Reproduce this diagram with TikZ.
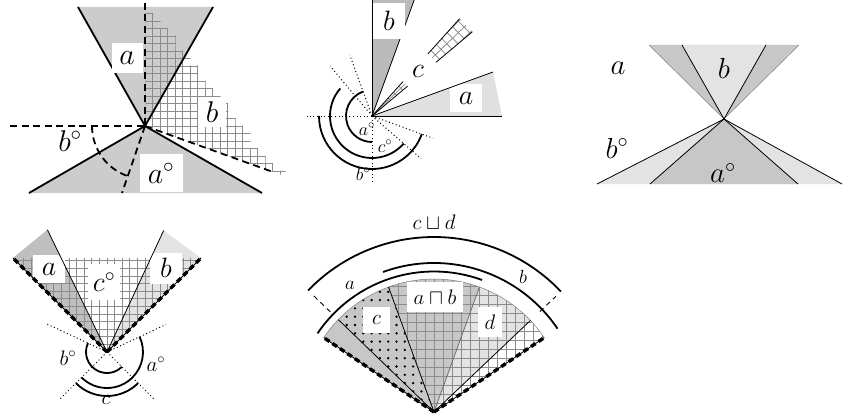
\RequirePackage{fix-cm}
\documentclass[tikz,border=0pt]{standalone}
\definecolor{gridc}{gray}{0.55}
\definecolor{pOne}{gray}{0.8}
\definecolor{pTwoD}{gray}{0.73}
\definecolor{pTwoL}{gray}{0.88}
\definecolor{pMid}{gray}{0.78}
\definecolor{pLight}{gray}{0.89}
\definecolor{pDark}{gray}{0.75}
\definecolor{rayg}{gray}{0.4}
\begin{document}
\begin{tikzpicture}[x=1pt,y=1pt,
  thk/.style={line width=1.8pt},
  thn/.style={line width=0.8pt},
  dsh/.style={line width=1.8pt, dash pattern=on 7pt off 4.5pt},
  dts/.style={line width=1pt, dash pattern=on 1pt off 2.6pt},
  tick/.style={line width=0.9pt, dash pattern=on 5pt off 4pt},
  bnd/.style={line width=3.4pt, dash pattern=on 5.5pt off 3.5pt},
  gln/.style={line width=0.8pt, draw=gridc},
  lab/.style={font=\fontsize{#1}{#1}\selectfont, inner sep=0pt},
  wbox/.style={fill=white, inner sep=0pt},
]
\useasboundingbox (0,0) rectangle (843,-420);

%% ---------------- Panel 1 ----------------
\coordinate (A1) at (145,-126);
\coordinate (U1l) at (78,-7);
\coordinate (U1r) at (213,-7);
\coordinate (L1l) at (29,-193);
\coordinate (L1r) at (262,-193);
\fill[pOne] (U1l) -- (U1r) -- (A1) -- cycle;
\fill[pOne] (A1) -- (L1l) -- (L1r) -- cycle;
\begin{scope}
 \clip (A1) -- (145,0) -- (300,0) -- (300,-181.7) -- cycle;
 \clip[shift={(0.5,0.5)}] (145,-200) -- (145,-13.5) -- (152.5,-13.5) -- (152.5,-21) -- (160,-21) -- (160,-28.5) -- (167.5,-28.5) -- (167.5,-36) -- (175,-36) -- (175,-51) -- (182.5,-51) -- (182.5,-58.5) -- (190,-58.5) -- (190,-66) -- (197.5,-66) -- (197.5,-81) -- (205,-81) -- (205,-88.5) -- (212.5,-88.5) -- (212.5,-96) -- (220,-96) -- (220,-103.5) -- (227.5,-103.5) -- (227.5,-118.5) -- (235,-118.5) -- (235,-126) -- (242.5,-126) -- (242.5,-133.5) -- (250,-133.5) -- (250,-148.5) -- (257.5,-148.5) -- (257.5,-156) -- (265,-156) -- (265,-163.5) -- (272.5,-163.5) -- (272.5,-171) -- (285,-171) -- (285,-200) -- cycle;
 \foreach \k in {0,...,19} \draw[gln] (145+7.5*\k,0) -- (145+7.5*\k,-200);
 \foreach \k in {-10,...,17} \draw[gln] (140,-126+7.5*\k) -- (300,-126+7.5*\k);
\end{scope}
\node[wbox, minimum width=28pt, minimum height=30pt, lab=30] (lb1) at (212,-112) {$b$};
\draw[thk] (A1) -- (U1l);
\draw[thk] (A1) -- (U1r);
\draw[thk] (A1) -- (L1l);
\draw[thk] (A1) -- (L1r);
\coordinate (D1u) at (145,-3);
\coordinate (D1l) at (10,-126);
\coordinate (D1r) at (273,-172);
\coordinate (D1d) at (122,-193);
\draw[dsh] (D1u) -- (A1);
\draw[dsh] (D1l) -- (A1);
\draw[dsh] (A1) -- (D1r);
\draw[dsh] (A1) -- (D1d);
\draw[dsh] ([shift={(180:53)}]A1) arc[start angle=180, end angle=251, radius=53];
\node[wbox, minimum width=31pt, minimum height=30pt, lab=30] (la1) at (127,-58) {$a$};
\node[wbox, minimum width=43pt, minimum height=38pt, lab=30] (lao1) at (161,-173) {$a^\circ$};
\node[lab=30] (lbo1) at (70,-141) {$b^\circ$};

%% ---------------- Panel 2 ----------------
\begin{scope}[shift={(372,-116)}]
 \coordinate (A2) at (0,0);
 \coordinate (B2t) at (0,116);
 \coordinate (B2r) at (42.2,116);
 \coordinate (Ar0) at (130,0);
 \coordinate (Ar1) at (121,44);
 \fill[pTwoD] (A2) -- (B2t) -- (B2r) -- cycle;
 \fill[pTwoL] (A2) -- (Ar0) -- (Ar1) -- cycle;
 \begin{scope}
  \clip (A2) -- (40:140) -- (48:140) -- cycle;
  \clip (0,0) circle (131);
  \begin{scope}[rotate=44]
   \foreach \k in {-5,...,5} \draw[gln] (0,8*\k) -- (140,8*\k);
   \foreach \k in {0,...,18} \draw[gln] (8*\k,-40) -- (8*\k,40);
  \end{scope}
 \end{scope}
 \coordinate (C2a) at (40:131);
 \coordinate (C2b) at (48:131);
 \draw[thn] (A2) -- (C2a);
 \draw[thn] (A2) -- (C2b);
 \draw[thn] (A2) -- (B2r);
 \fill[white] (36:47) -- (52:47) -- (52:84) -- (36:84) -- cycle;
 \node[lab=28] (lc2) at (46,45) {$c$};
 \node[wbox, minimum width=32pt, minimum height=36pt, lab=28] (lb2) at (17,95) {$b$};
 \draw[thn] (A2) -- (B2t);
 \node[wbox, minimum width=32pt, minimum height=28pt, lab=28] (la2) at (94,18) {$a$};
 \draw[thn] (A2) -- (Ar0);
 \draw[thn] (A2) -- (Ar1);
 \draw[dts] (A2) -- (180:65);
 \draw[dts] (A2) -- (110:65);
 \draw[dts] (A2) -- (130:65);
 \draw[dts] (A2) -- (270:66);
 \draw[dts] (A2) -- (-20:65);
 \draw[dts] (A2) -- (-41:65);
 \draw[thk] (110:26) arc[start angle=110, end angle=270, radius=26];
 \draw[thk] (139:42) arc[start angle=139, end angle=319, radius=42];
 \draw[thk] (180:53) arc[start angle=180, end angle=340, radius=53];
 \node[lab=18] (lao2) at (-5,-13) {$a^\circ$};
 \node[lab=18] (lco2) at (13,-30) {$c^\circ$};
 \node[lab=18] (lbo2) at (-9,-58) {$b^\circ$};
\end{scope}

%% ---------------- Panel 3 ----------------
\coordinate (A3) at (724,-119);
\coordinate (T3a) at (649,-45);
\coordinate (T3b) at (682,-45);
\coordinate (T3c) at (766,-45);
\coordinate (T3d) at (799,-45);
\coordinate (B3a) at (597,-184);
\coordinate (B3b) at (650,-184);
\coordinate (B3c) at (798,-184);
\coordinate (B3d) at (842,-184);
\fill[pMid] (T3a) -- (T3d) -- (A3) -- cycle;
\fill[pLight] (T3b) -- (T3c) -- (A3) -- cycle;
\fill[pLight] (A3) -- (B3a) -- (B3d) -- cycle;
\fill[pMid] (A3) -- (B3b) -- (B3c) -- cycle;
\draw[line width=0.5pt, gray] (T3a) -- (A3) -- (T3d);
\draw[thn] (T3b) -- (A3);
\draw[thn] (T3c) -- (A3);
\draw[thn] (B3a) -- (A3);
\draw[thn] (B3b) -- (A3);
\draw[thn] (B3c) -- (A3);
\draw[thn] (B3d) -- (A3);
\node[lab=29] (la3) at (618,-68) {$a$};
\node[lab=29] (lb3) at (724,-68) {$b$};
\node[lab=29] (lbo3) at (617,-148) {$b^\circ$};
\node[lab=29] (lao3) at (723,-173) {$a^\circ$};

%% ---------------- Panel 4 ----------------
\begin{scope}[shift={(107,-352)}]
 \coordinate (A4) at (0,0);
 \coordinate (E4l) at (135:133);
 \coordinate (E4r) at (45:133);
 \coordinate (K4a) at (116:136);
 \coordinate (K4b) at (65:134);
 \fill[pDark] (A4) -- (E4l) -- (K4a) -- cycle;
 \fill[pLight] (A4) -- (E4r) -- (K4b) -- cycle;
 \begin{scope}
  \clip (A4) -- (E4l) -- (E4r) -- cycle;
  \foreach \k in {-14,...,14} \draw[gln] (7.6*\k,0) -- (7.6*\k,100);
  \foreach \k in {0,...,13} \draw[gln] (-100,7.6*\k) -- (100,7.6*\k);
 \end{scope}
 \node[wbox, minimum width=32pt, minimum height=28pt, lab=28] (la4) at (-58,83) {$a$};
 \node[wbox, minimum width=32pt, minimum height=31pt, lab=28] (lb4) at (59,84) {$b$};
 \node[wbox, minimum width=32pt, minimum height=36pt, lab=28] (lco4) at (-3,70) {$c^\circ$};
 \draw[thn] (A4) -- (K4a);
 \draw[thn] (A4) -- (K4b);
 \draw[thn] (A4) -- (E4l);
 \draw[thn] (A4) -- (E4r);
 \draw[bnd] (A4) -- (E4l);
 \draw[bnd] (A4) -- (E4r);
 \draw[dts] (A4) -- (155:67);
 \draw[dts] (A4) -- (25:65);
 \draw[dts] (A4) -- (225:67);
 \draw[dts] (A4) -- (315:67);
 \draw[thk] (155:21) arc[start angle=155, end angle=315, radius=21];
 \draw[thk] (225:36) arc[start angle=225, end angle=385, radius=36];
 \draw[thk] (225:44) arc[start angle=225, end angle=315, radius=44];
 \node[lab=21] (lbo4) at (-39,-6) {$b^\circ$};
 \node[lab=21] (lao4) at (49,-12) {$a^\circ$};
 \node[lab=21] (lc4) at (-1,-48) {$c$};
\end{scope}

%% ---------------- Panel 5 ----------------
\begin{scope}[shift={(434,-412)}]
 \coordinate (A5) at (0,0);
 \fill[pMid] (A5) -- (70:133) arc[start angle=70, end angle=146, radius=133] -- cycle;
 \fill[pLight] (A5) -- (43.5:133) arc[start angle=43.5, end angle=70, radius=133] -- cycle;
 \begin{scope}
  \clip (A5) -- (34:133) arc[start angle=34, end angle=110, radius=133] -- cycle;
  \foreach \k in {-15,...,15} \draw[gln] (9*\k,0) -- (9*\k,140);
  \foreach \k in {0,...,16} \draw[gln] (-140,9*\k) -- (140,9*\k);
 \end{scope}
 \begin{scope}
  \clip (A5) -- (110:133) arc[start angle=110, end angle=136, radius=133] -- cycle;
  \foreach \i in {-17,...,0} {
   \foreach \j in {0,...,17} {
    \fill (8.3*\i+4,8.3*\j+4) circle (1.3);
   }
  }
 \end{scope}
 \draw[line width=0.5pt, gray] (34:133) arc[start angle=34, end angle=146, radius=133];
 \node[wbox, minimum width=56pt, minimum height=30pt, lab=21] (lab5) at (1,115) {$a\sqcap b$};
 \node[wbox, minimum width=27pt, minimum height=26pt, lab=21] (lc5) at (-57.5,92) {$c$};
 \node[wbox, minimum width=24pt, minimum height=30pt, lab=21] (ld5) at (56,90) {$d$};
 \coordinate (R5a) at (136:133);
 \coordinate (R5b) at (110:133);
 \coordinate (R5c) at (70:133);
 \coordinate (R5d) at (43.5:133);
 \coordinate (E5l) at (146:133);
 \coordinate (E5r) at (34:133);
 \draw[thn] (A5) -- (R5a);
 \draw[thn] (A5) -- (R5b);
 \draw[line width=0.7pt, rayg] (A5) -- (R5c);
 \draw[thn] (A5) -- (R5d);
 \draw[thn] (A5) -- (E5l);
 \draw[thn] (A5) -- (E5r);
 \draw[bnd] (A5) -- (E5l);
 \draw[bnd] (A5) -- (E5r);
 \draw[thk] (146:140.5) arc[start angle=146, end angle=70, radius=140.5];
 \draw[thk] (110:149) arc[start angle=110, end angle=34, radius=149];
 \draw[thk] (136:175) arc[start angle=136, end angle=43.5, radius=175];
 \draw[tick] (136:144) -- (136:168);
 \draw[tick] (43.5:146) -- (43.5:168);
 \node[lab=21] (lcd5) at (0,190) {$c\sqcup d$};
 \node[lab=19] (la5) at (-84,127) {$a$};
 \node[lab=19] (lb5) at (89,135) {$b$};
\end{scope}
\end{tikzpicture}
\end{document}
